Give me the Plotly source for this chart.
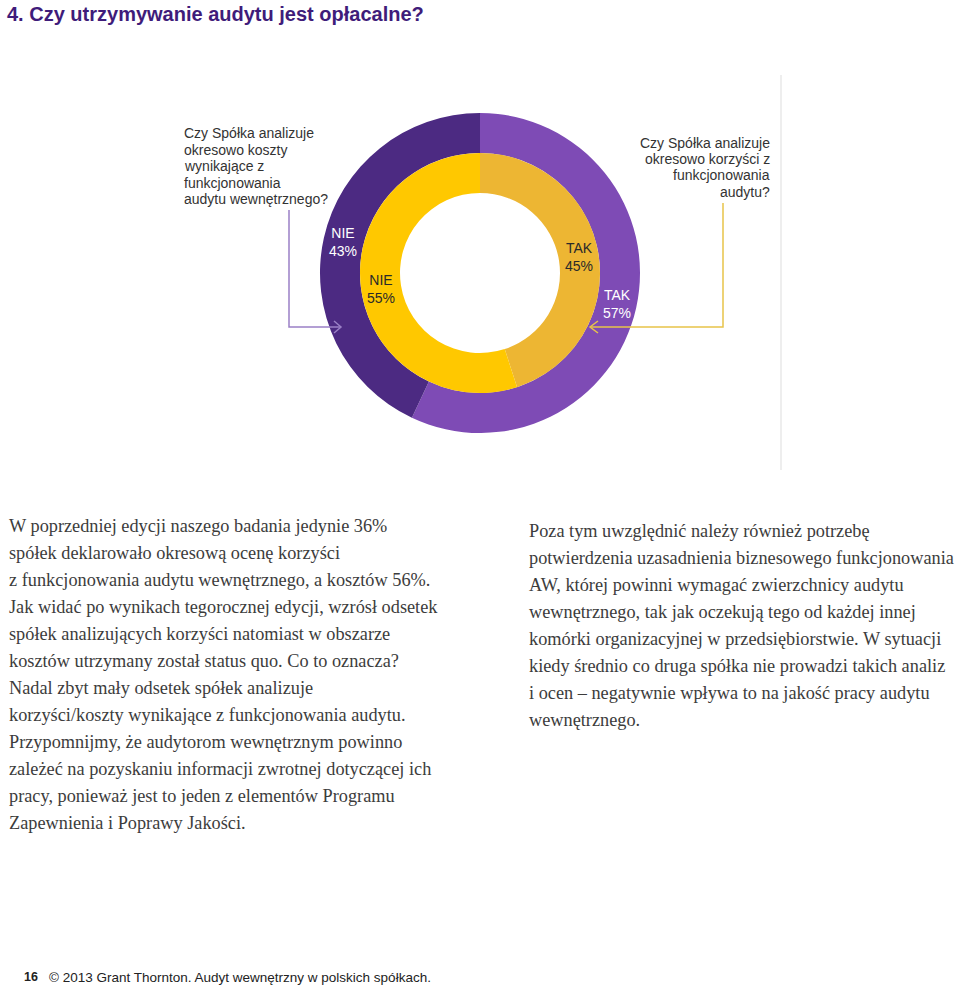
import math
import plotly.graph_objects as go

W, H = 960, 986

# ---- data ----
outer_labels = ["TAK", "NIE"]          # korzyści
outer_values = [57, 43]
outer_colors = ["#7E4BB5", "#4C2A82"]
outer_text_colors = ["white", "white"]
inner_labels = ["TAK", "NIE"]          # koszty
inner_values = [45, 55]
inner_colors = ["#EDB633", "#FFC800"]
inner_text_colors = ["#2a2a2a", "#2a2a2a"]

title_text = "4. Czy utrzymywanie audytu jest opłacalne?"
left_question = ["Czy Spółka analizuje", "okresowo koszty", "wynikające z",
                 "funkcjonowania", "audytu wewnętrznego?"]
right_question = ["Czy Spółka analizuje", "okresowo korzyści z",
                  "funkcjonowania", "audytu?"]
left_par = [
    "W poprzedniej edycji naszego badania jedynie 36%",
    "spółek deklarowało okresową ocenę korzyści",
    "z funkcjonowania audytu wewnętrznego, a kosztów 56%.",
    "Jak widać po wynikach tegorocznej edycji, wzrósł odsetek",
    "spółek analizujących korzyści natomiast w obszarze",
    "kosztów utrzymany został status quo. Co to oznacza?",
    "Nadal zbyt mały odsetek spółek analizuje",
    "korzyści/koszty wynikające z funkcjonowania audytu.",
    "Przypomnijmy, że audytorom wewnętrznym powinno",
    "zależeć na pozyskaniu informacji zwrotnej dotyczącej ich",
    "pracy, ponieważ jest to jeden z elementów Programu",
    "Zapewnienia i Poprawy Jakości.",
]
right_par = [
    "Poza tym uwzględnić należy również potrzebę",
    "potwierdzenia uzasadnienia biznesowego funkcjonowania",
    "AW, której powinni wymagać zwierzchnicy audytu",
    "wewnętrznego, tak jak oczekują tego od każdej innej",
    "komórki organizacyjnej w przedsiębiorstwie. W sytuacji",
    "kiedy średnio co druga spółka nie prowadzi takich analiz",
    "i ocen – negatywnie wpływa to na jakość pracy audytu",
    "wewnętrznego.",
]
footer_page = "16"
footer_text = "© 2013 Grant Thornton. Audyt wewnętrzny w polskich spółkach."


def px(x):
    return x / W


def py(y):
    return 1 - y / H


SANS = "Liberation Sans, Arial, sans-serif"
SERIF = "Liberation Serif, Times New Roman, serif"

cx, cy = 480, 273
R_out, R_mid, R_in = 160, 120, 80

fig = go.Figure()
fig.add_trace(go.Pie(
    labels=outer_labels, values=outer_values, sort=False, direction="clockwise",
    rotation=0, hole=R_mid / R_out,
    marker=dict(colors=outer_colors, line=dict(width=0)),
    textinfo="none",
    domain=dict(x=[px(cx - R_out), px(cx + R_out)], y=[py(cy + R_out), py(cy - R_out)]),
    showlegend=False, hoverinfo="label+percent",
))
fig.add_trace(go.Pie(
    labels=inner_labels, values=inner_values, sort=False, direction="clockwise",
    rotation=0, hole=R_in / R_mid,
    marker=dict(colors=inner_colors, line=dict(width=0)),
    textinfo="none",
    domain=dict(x=[px(cx - R_mid), px(cx + R_mid)], y=[py(cy + R_mid), py(cy - R_mid)]),
    showlegend=False, hoverinfo="label+percent",
))

ann = []


def text(x, y, s, size, family, color, xanchor="left", bold=False):
    ann.append(dict(x=px(x), y=py(y), xref="paper", yref="paper", text=(f"<b>{s}</b>" if bold else s),
                    showarrow=False, xanchor=xanchor, yanchor="middle",
                    font=dict(size=size, family=family, color=color)))


# slice labels placed at each slice's centroid angle (derived from the values)
def slice_labels(labels, values, colors, r):
    total = sum(values)
    start = 0.0
    for lab, v, c in zip(labels, values, colors):
        mid = (start + v / 2) / total * 2 * math.pi
        start += v
        pct = round(100 * v / total)
        x = cx + r * math.sin(mid)
        y = cy - r * math.cos(mid)
        ann.append(dict(x=px(x), y=py(y), xref="paper", yref="paper",
                        text=f"{lab}<br>{pct}%", showarrow=False,
                        xanchor="center", yanchor="middle",
                        font=dict(size=14, family=SANS, color=c)))


slice_labels(outer_labels, outer_values, outer_text_colors, (R_out + R_mid) / 2)
slice_labels(inner_labels, inner_values, inner_text_colors, (R_mid + R_in) / 2)

text(5, 14, title_text, 20, SANS, "#3F1C7A", bold=True)

for i, s in enumerate(left_question):
    text(182, 133 + i * 16.6, s, 14, SANS, "#333333")
for i, s in enumerate(right_question):
    text(772, 143 + i * 16.2, s, 14, SANS, "#333333", xanchor="right")

for i, s in enumerate(left_par):
    text(7, 526 + i * 27, s, 18.3, SERIF, "#3c3c3c")
for i, s in enumerate(right_par):
    text(527, 531 + i * 27, s, 18.3, SERIF, "#3c3c3c")

text(22, 977, footer_page, 12.5, SANS, "#222", bold=True)
text(47, 977, footer_text, 13.5, SANS, "#222")

shapes = []


def path(points, color, width=1.5):
    d = "M " + " L ".join(f"{px(x)} {py(y)}" for x, y in points)
    shapes.append(dict(type="path", path=d, xref="paper", yref="paper",
                       line=dict(color=color, width=width)))


# left connector (purple)
path([(289, 210), (289, 327), (341, 327)], "#9A80C6")
path([(334, 321), (341, 327), (334, 333)], "#9A80C6")
# right connector (yellow)
path([(723, 203), (723, 327), (590, 327)], "#E8C44A")
path([(598, 321), (590, 327), (598, 333)], "#E8C44A")
# vertical separator
path([(781, 75), (781, 470)], "#DDDDDD", 1)

fig.update_layout(
    width=W, height=H, margin=dict(l=0, r=0, t=0, b=0),
    paper_bgcolor="white", plot_bgcolor="white",
    annotations=ann, shapes=shapes, showlegend=False,
)
fig.write_html("out.html")
